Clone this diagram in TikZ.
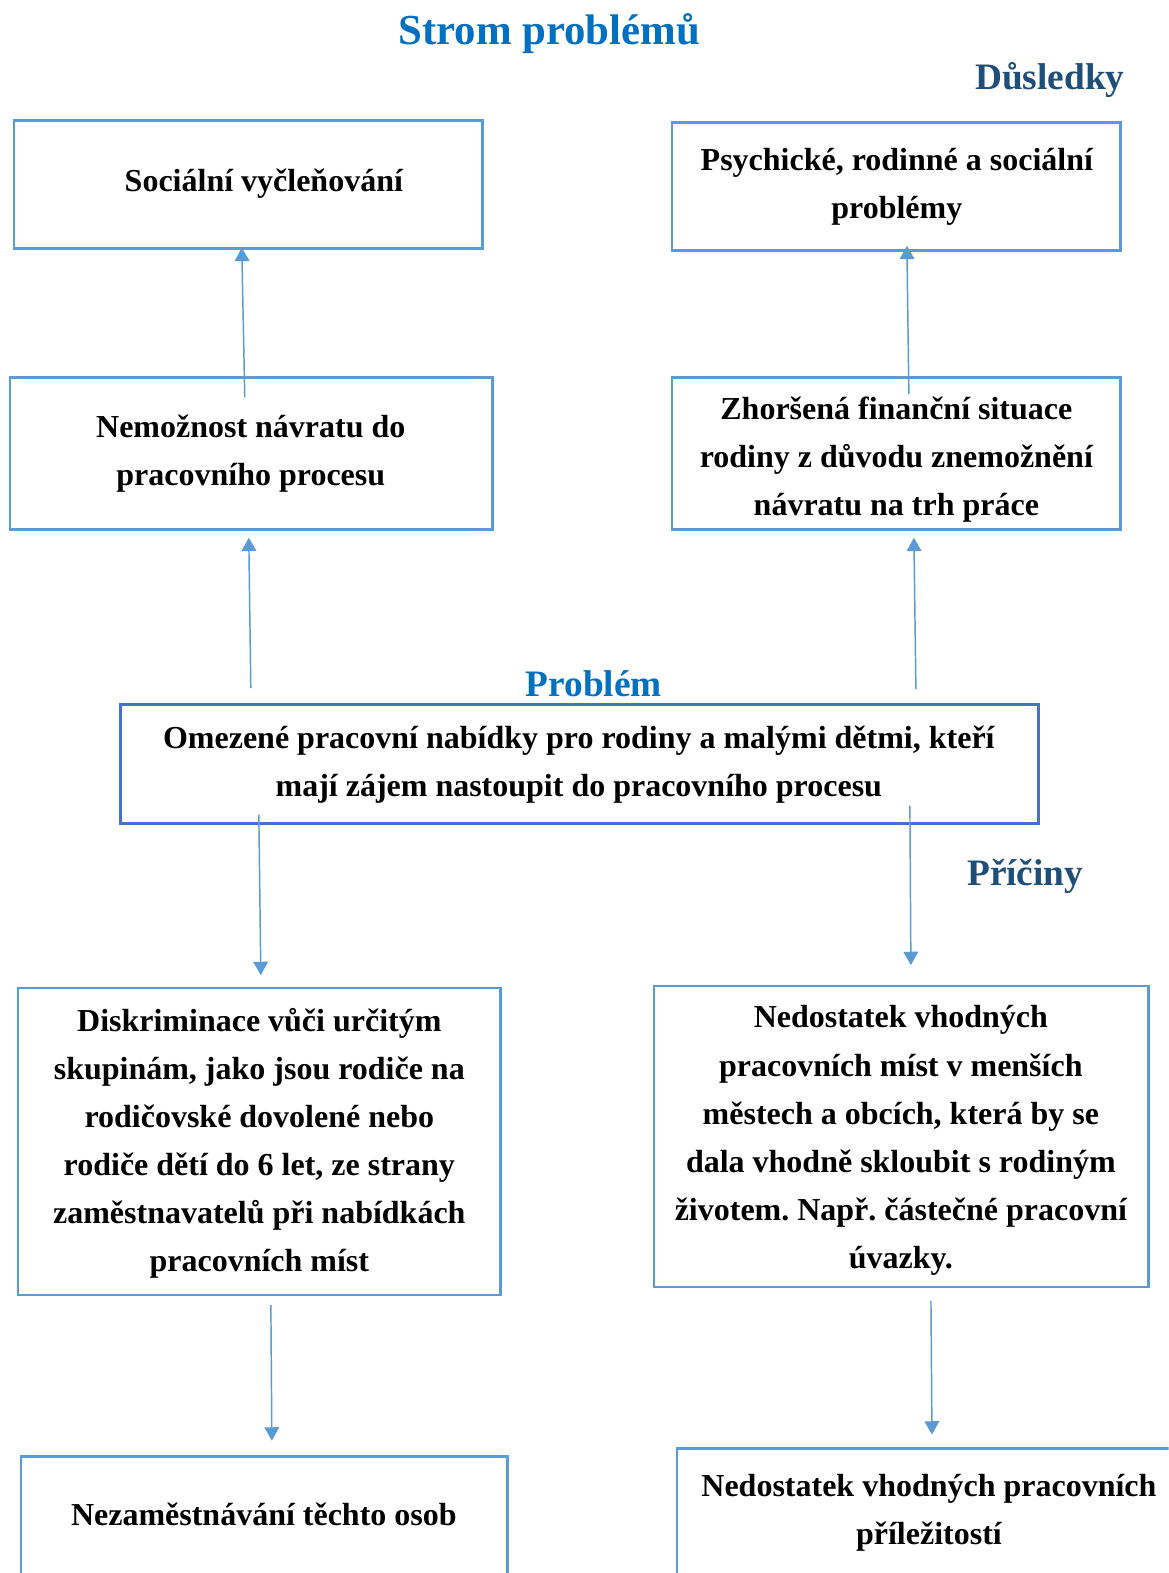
\documentclass[tikz,border=0pt]{standalone}
\usepackage{fontspec}
\setmainfont{Liberation Serif}
\usetikzlibrary{arrows.meta}
\definecolor{boxblue}{HTML}{5B9BD5}
\definecolor{probblue}{HTML}{4472C4}
\definecolor{titleblue}{HTML}{0070C0}
\definecolor{darkblue}{HTML}{1F4E79}
\frenchspacing
\begin{document}
\begin{tikzpicture}[x=0.75257pt,y=-0.75257pt,
  box/.style={draw=boxblue,line width=2pt,inner sep=0pt},
  txt/.style={inner sep=0pt,align=center,font=\fontsize{24}{36.1}\selectfont\bfseries\frenchspacing},
  probbox/.style={box,draw=probblue},
  arr/.style={draw=boxblue,line width=1.1pt,-{Triangle[width=11pt,length=10pt]}},
  head/.style={inner sep=0pt,font=\fontsize{28}{33}\selectfont\bfseries},
]
\useasboundingbox (0,0) rectangle (1165,1568);
\clip (0,0) rectangle (1165,1568);
\fill[white] (0,0) rectangle (1165,1568);

% headings
\node[head,text=titleblue,font=\fontsize{32.1}{36}\selectfont\bfseries] (title) at (547.5,33) {Strom problémů};
\node[head,text=darkblue] (dusl) at (1046.5,79.7) {Důsledky};
\node[head,text=titleblue] (probl) at (592,681.7) {Problém};
\node[head,text=darkblue] (pric) at (1022,874) {Příčiny};

% boxes
\node[box,minimum width=351.45pt,minimum height=96.33pt] (b1) at (247.5,184) {};
\node[box,minimum width=336.40pt,minimum height=96.33pt] (b2) at (893.5,186) {};
\node[box,minimum width=361.99pt,minimum height=114.39pt] (b3) at (250.5,452) {};
\node[box,minimum width=336.40pt,minimum height=114.39pt] (b4) at (893.5,452) {};
\node[probbox,minimum width=688.60pt,minimum height=89.56pt] (b5) at (577.5,761.5) {};
\node[box,minimum width=361.99pt,minimum height=230.29pt] (b6) at (258.5,1138) {};
\node[box,minimum width=371.02pt,minimum height=225.77pt] (b7) at (898.5,1133) {};
\draw[box] (21,1452) rectangle (506,1640);
\draw[box] (675,1444) rectangle (1220,1640);

% texts
\node[txt] (t1) at (263,183.5) {Sociální vyčleňování};
\node[txt] (t2) at (894,186) {Psychické, rodinné a sociální\\problémy};
\node[txt] (t3) at (250,452.5) {Nemožnost návratu do\\pracovního procesu};
\node[txt] (t4) at (893.5,458.5) {Zhoršená finanční situace\\rodiny z důvodu znemožnění\\návratu na trh práce};
\node[txt] (t5) at (577,762) {Omezené pracovní nabídky pro rodiny a malými dětmi, kteří\\mají zájem nastoupit do pracovního procesu};
\node[txt] (t6) at (258.5,1139.5) {Diskriminace vůči určitým\\skupinám, jako jsou rodiče na\\rodičovské dovolené nebo\\rodiče dětí do 6 let, ze strany\\zaměstnavatelů při nabídkách\\pracovních míst};
\node[txt] (t7) at (898,1137) {Nedostatek vhodných\\pracovních míst v menších\\městech a obcích, která by se\\dala vhodně skloubit s rodiným\\životem. Např. částečné pracovní\\úvazky.};
\node[txt] (t8) at (263,1510) {Nezaměstnávání těchto osob};
\node[txt] (t9) at (926,1508) {Nedostatek vhodných pracovních\\příležitostí};

% arrow endpoints
\coordinate (a1s) at (244,396); \coordinate (a1e) at (241,247);
\coordinate (a2s) at (906,393); \coordinate (a2e) at (904,245);
\coordinate (a3s) at (250,686); \coordinate (a3e) at (248,536);
\coordinate (a4s) at (913,687); \coordinate (a4e) at (911,536);
\coordinate (a5s) at (258,812); \coordinate (a5e) at (260,972);
\coordinate (a6s) at (907,803); \coordinate (a6e) at (908,962);
\coordinate (a7s) at (270,1301); \coordinate (a7e) at (271,1436);
\coordinate (a8s) at (928,1297); \coordinate (a8e) at (929,1430);
\foreach \i in {1,...,8} {\draw[arr] (a\i s) -- (a\i e);}
\end{tikzpicture}
\end{document}
